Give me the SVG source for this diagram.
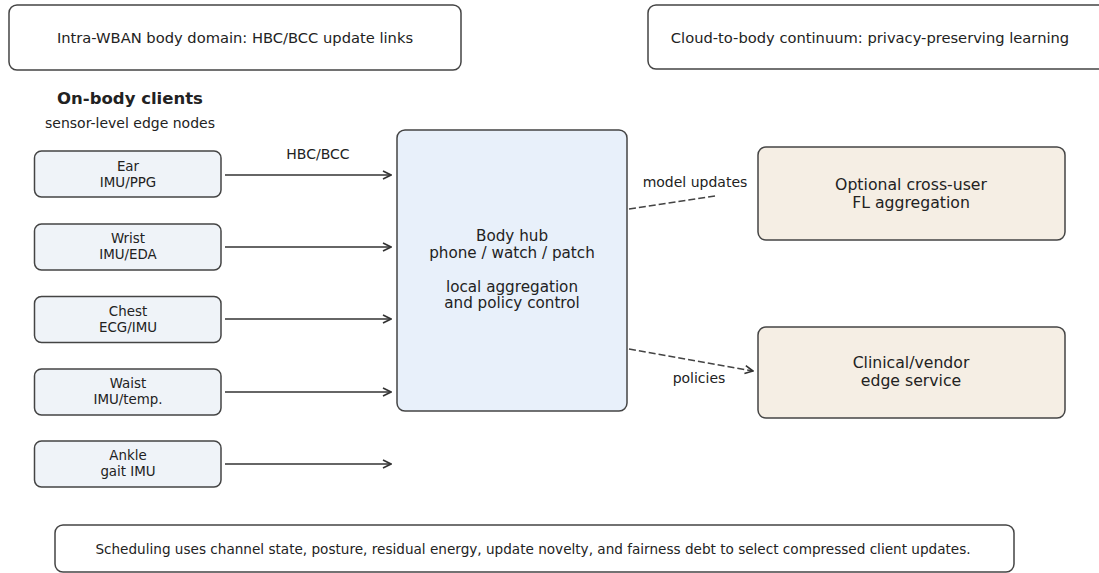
<svg xmlns="http://www.w3.org/2000/svg" width="1099" height="573" viewBox="0 0 1099 573">
<defs>
<style>
text{font-family:"DejaVu Sans","Liberation Sans",sans-serif;fill:#222;text-anchor:middle;dominant-baseline:central}
.frame{fill:#fff;stroke:#444;stroke-width:1.5}
.client{fill:#eff3f8;stroke:#444;stroke-width:1.5}
.hub{fill:#e8f0fa;stroke:#444;stroke-width:1.5}
.cloud{fill:#f5eee4;stroke:#444;stroke-width:1.5}
.title{font-size:14.7px}
.cl{font-size:13.4px}
.hubt{font-size:15.2px}
.rt{font-size:15.7px}
.lbl{font-size:14px}
.note{font-size:13.6px}
.conn{stroke:#333;stroke-width:1.6;fill:none}
.dash{stroke:#444;stroke-width:1.6;fill:none;stroke-dasharray:7 3}
</style>
<marker id="arr" viewBox="0 0 10 10" refX="9" refY="5" markerWidth="10" markerHeight="10" markerUnits="userSpaceOnUse" orient="auto">
<path d="M1,1 L9,5 L1,9" fill="none" stroke="#333" stroke-width="1.6"/>
</marker>
</defs>
<rect width="1099" height="573" fill="#fff"/>

<g id="title-left">
<rect class="frame" x="9" y="5" width="452" height="65" rx="8"/>
<text class="title" x="235" y="37">Intra-WBAN body domain: HBC/BCC update links</text>
</g>
<g id="title-right">
<rect class="frame" x="648" y="5" width="460" height="64" rx="8"/>
<text class="title" x="870" y="37">Cloud-to-body continuum: privacy-preserving learning</text>
</g>

<g id="clients-header">
<text x="130" y="98" style="font-size:16.5px;font-weight:bold">On-body clients</text>
<text class="lbl" x="130" y="123">sensor-level edge nodes</text>
</g>

<g id="ear">
<rect class="client" x="34.5" y="151" width="186.5" height="46" rx="7"/>
<text class="cl" x="128" y="166">Ear</text>
<text class="cl" x="128" y="182">IMU/PPG</text>
</g>
<g id="wrist">
<rect class="client" x="34.5" y="224" width="186.5" height="46" rx="7"/>
<text class="cl" x="128" y="238.5">Wrist</text>
<text class="cl" x="128" y="254.5">IMU/EDA</text>
</g>
<g id="chest">
<rect class="client" x="34.5" y="296.5" width="186.5" height="46" rx="7"/>
<text class="cl" x="128" y="311">Chest</text>
<text class="cl" x="128" y="327">ECG/IMU</text>
</g>
<g id="waist">
<rect class="client" x="34.5" y="369" width="186.5" height="46" rx="7"/>
<text class="cl" x="128" y="383.5">Waist</text>
<text class="cl" x="128" y="399.5">IMU/temp.</text>
</g>
<g id="ankle">
<rect class="client" x="34.5" y="441" width="186.5" height="46" rx="7"/>
<text class="cl" x="128" y="455.5">Ankle</text>
<text class="cl" x="128" y="471.5">gait IMU</text>
</g>

<g id="hub">
<rect class="hub" x="397" y="130" width="230" height="281" rx="8"/>
<text class="hubt" x="512" y="236">Body hub</text>
<text class="hubt" x="512" y="253">phone / watch / patch</text>
<text class="hubt" x="512" y="287">local aggregation</text>
<text class="hubt" x="512" y="303">and policy control</text>
</g>

<g id="fl-aggregation">
<rect class="cloud" x="758" y="147" width="307" height="93" rx="8"/>
<text class="rt" x="911" y="184">Optional cross-user</text>
<text class="rt" x="911" y="202">FL aggregation</text>
</g>
<g id="edge-service">
<rect class="cloud" x="758" y="327" width="307" height="91" rx="8"/>
<text class="rt" x="911" y="362">Clinical/vendor</text>
<text class="rt" x="911" y="380">edge service</text>
</g>

<g id="note">
<rect class="frame" x="55" y="525" width="959" height="47" rx="8"/>
<text class="note" x="533" y="549">Scheduling uses channel state, posture, residual energy, update novelty, and fairness debt to select compressed client updates.</text>
</g>

<g id="connectors">
<line class="conn" x1="225" y1="175" x2="391" y2="175" marker-end="url(#arr)"/>
<line class="conn" x1="225" y1="247" x2="391" y2="247" marker-end="url(#arr)"/>
<line class="conn" x1="225" y1="319" x2="391" y2="319" marker-end="url(#arr)"/>
<line class="conn" x1="225" y1="392" x2="391" y2="392" marker-end="url(#arr)"/>
<line class="conn" x1="225" y1="464" x2="391" y2="464" marker-end="url(#arr)"/>
<text class="lbl" x="318" y="154">HBC/BCC</text>
<line class="dash" x1="629" y1="209" x2="715" y2="196"/>
<text class="lbl" x="695" y="182">model updates</text>
<line class="dash" x1="629" y1="349" x2="753" y2="371" marker-end="url(#arr)"/>
<text class="lbl" x="699" y="378">policies</text>
</g>
</svg>
